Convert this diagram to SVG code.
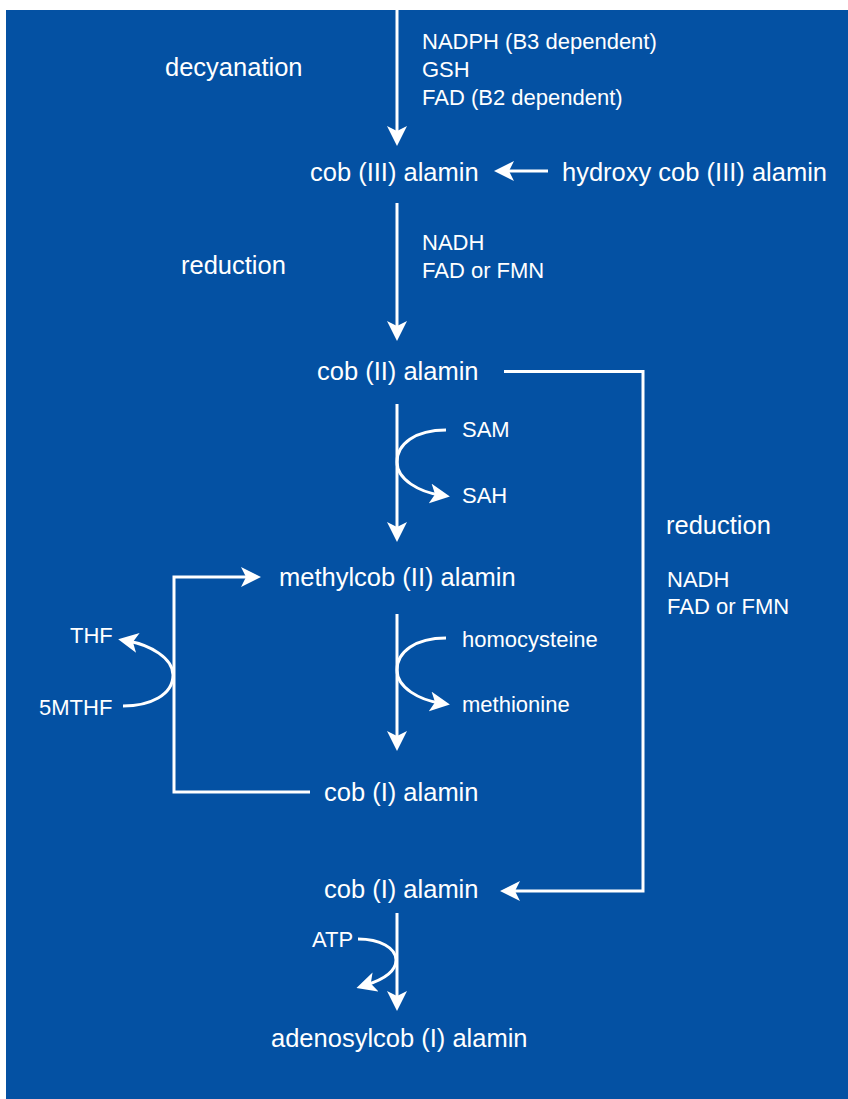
<svg xmlns="http://www.w3.org/2000/svg" width="848" height="1099" viewBox="0 0 848 1099">
<style>
.bg{fill:#0451a3}
.big{font-family:"Liberation Sans",Arial,sans-serif;font-size:25.5px;fill:#fff}
.sm{font-family:"Liberation Sans",Arial,sans-serif;font-size:22px;fill:#fff}
.ln{fill:none;stroke:#fff;stroke-width:3}
</style>
<defs>
<marker id="ah" viewBox="0 0 20 20" refX="10" refY="10" markerWidth="20" markerHeight="20" markerUnits="userSpaceOnUse" orient="auto">
<path d="M0,0 L20,10 L0,20 L5,10 Z" fill="#fff"/>
</marker>
</defs>
<rect class="bg" x="6" y="10" width="842" height="1089"/>
<g id="connectors">
<line class="ln" x1="397" y1="10" x2="397" y2="136" marker-end="url(#ah)"/>
<line class="ln" x1="548" y1="171" x2="504" y2="171" marker-end="url(#ah)"/>
<line class="ln" x1="397" y1="203" x2="397" y2="331" marker-end="url(#ah)"/>
<polyline class="ln" points="504,371.5 643,371.5 643,891 510,891" marker-end="url(#ah)"/>
<line class="ln" x1="397" y1="404" x2="397" y2="532" marker-end="url(#ah)"/>
<path class="ln" d="M446,430 C415,430 397,444 397,462 C397,480 420,492 440,495" marker-end="url(#ah)"/>
<line class="ln" x1="397" y1="614" x2="397" y2="741" marker-end="url(#ah)"/>
<path class="ln" d="M446,638 C415,638 397,652 397,670 C397,688 420,700 440,703" marker-end="url(#ah)"/>
<polyline class="ln" points="310,792 174,792 174,577 251,577" marker-end="url(#ah)"/>
<path class="ln" d="M123,706 C150,706 173,695 173,675 C173,658 150,645 128,641" marker-end="url(#ah)"/>
<line class="ln" x1="397" y1="913" x2="397" y2="1001" marker-end="url(#ah)"/>
<path class="ln" d="M358,939 C380,939 396,948 396,960 C396,973 382,980 366,985" marker-end="url(#ah)"/>
</g>
<g id="n-decyanation"><text class="big" x="165" y="76">decyanation</text></g>
<g id="n-cofactors1">
<text class="sm" x="422" y="49">NADPH (B3 dependent)</text>
<text class="sm" x="422" y="77">GSH</text>
<text class="sm" x="422" y="105">FAD (B2 dependent)</text>
</g>
<g id="n-cob3"><text class="big" x="310" y="181">cob (III) alamin</text></g>
<g id="n-hydroxy"><text class="big" x="562" y="181">hydroxy cob (III) alamin</text></g>
<g id="n-reduction1"><text class="big" x="181" y="274">reduction</text></g>
<g id="n-cofactors2">
<text class="sm" x="422" y="250">NADH</text>
<text class="sm" x="422" y="278">FAD or FMN</text>
</g>
<g id="n-cob2"><text class="big" x="317" y="380">cob (II) alamin</text></g>
<g id="n-sam"><text class="sm" x="462" y="437">SAM</text></g>
<g id="n-sah"><text class="sm" x="462" y="503">SAH</text></g>
<g id="n-reduction2"><text class="big" x="666" y="534">reduction</text></g>
<g id="n-cofactors3">
<text class="sm" x="667" y="587">NADH</text>
<text class="sm" x="667" y="614">FAD or FMN</text>
</g>
<g id="n-methylcob"><text class="big" x="279" y="586">methylcob (II) alamin</text></g>
<g id="n-homocysteine"><text class="sm" x="462" y="647">homocysteine</text></g>
<g id="n-methionine"><text class="sm" x="462" y="712">methionine</text></g>
<g id="n-thf"><text class="sm" x="70" y="643">THF</text></g>
<g id="n-5mthf"><text class="sm" x="39" y="715">5MTHF</text></g>
<g id="n-cob1a"><text class="big" x="324" y="801">cob (I) alamin</text></g>
<g id="n-cob1b"><text class="big" x="324" y="898">cob (I) alamin</text></g>
<g id="n-atp"><text class="sm" x="312" y="947">ATP</text></g>
<g id="n-adenosylcob"><text class="big" x="271" y="1047">adenosylcob (I) alamin</text></g>
</svg>
